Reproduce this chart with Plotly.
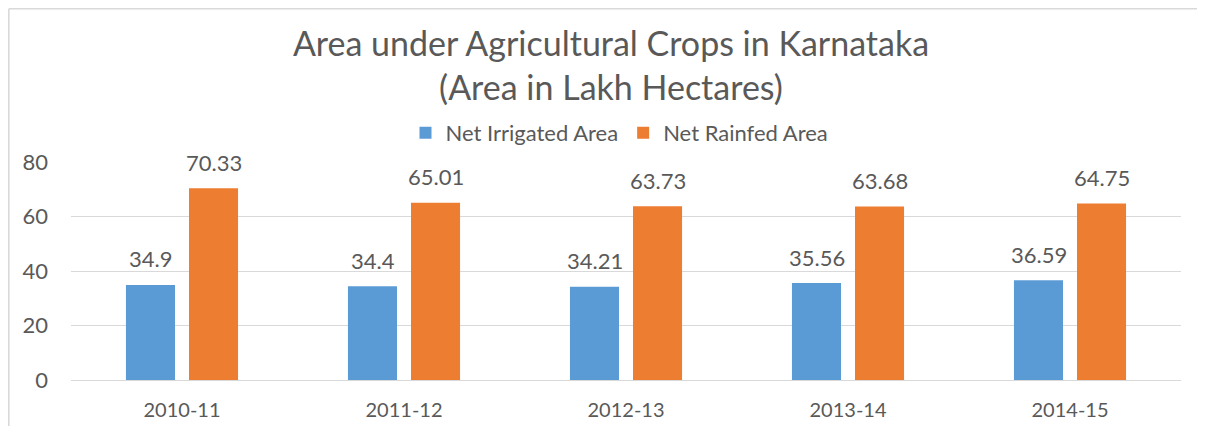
import plotly.graph_objects as go

years = ["2010-11", "2011-12", "2012-13", "2013-14", "2014-15"]
irrigated = [34.9, 34.4, 34.21, 35.56, 36.59]
rainfed = [70.33, 65.01, 63.73, 63.68, 64.75]
irrigated_labels = ["34.9", "34.4", "34.21", "35.56", "36.59"]
rainfed_labels = ["70.33", "65.01", "63.73", "63.68", "64.75"]

# the page body adds an 8px offset; figure size and coordinates are compensated for it
OFF = 8
W, H = 1205 - OFF, 426 - OFF
ML, MR, MT, MB = 71 - OFF, 24, 162 - OFF, 46
PW, PH = W - ML - MR, H - MT - MB

TXT = "#595959"
FONT = "Lato"

fig = go.Figure()
fig.add_trace(go.Bar(name="Net Irrigated Area", x=years, y=irrigated,
                     marker=dict(color="#5B9BD5", line=dict(width=0))))
fig.add_trace(go.Bar(name="Net Rainfed Area", x=years, y=rainfed,
                     marker=dict(color="#ED7D31", line=dict(width=0))))

for yr, v, t in zip(years, irrigated, irrigated_labels):
    fig.add_annotation(x=yr, y=v, text=t, showarrow=False, xshift=-31.5, yshift=26,
                       yanchor="middle", font=dict(family=FONT, size=22, color=TXT))
for yr, v, t in zip(years, rainfed, rainfed_labels):
    fig.add_annotation(x=yr, y=v, text=t, showarrow=False, xshift=32, yshift=26,
                       yanchor="middle", font=dict(family=FONT, size=22, color=TXT))

# outer chart border (only top and left edges are visible in the crop)
BX = 0.8
bx0 = (BX - ML) / PW
by1 = (MT + PH - BX) / PH
border = dict(color="#D9D9D9", width=1.6)
fig.add_shape(type="line", xref="paper", yref="paper", x0=bx0, x1=(W - ML) / PW,
              y0=by1, y1=by1, line=border, layer="below")
fig.add_shape(type="line", xref="paper", yref="paper", x0=bx0, x1=bx0,
              y0=by1, y1=-MB / PH, line=border, layer="below")

fig.update_layout(
    width=W, height=H,
    margin=dict(l=ML, r=MR, t=MT, b=MB, autoexpand=False),
    paper_bgcolor="white", plot_bgcolor="white",
    barmode="group", bargap=0.432, bargroupgap=0.222,
    title=dict(text="Area under Agricultural Crops in Karnataka<br>(Area in Lakh Hectares)",
               x=603 / W, xanchor="center", y=1 - 48 / H, yanchor="middle",
               font=dict(family=FONT, size=34, color=TXT)),
    legend=dict(orientation="h", x=(611.5 - ML) / PW, xanchor="center",
                y=(MT + PH - 125) / PH, yanchor="middle",
                font=dict(family=FONT, size=22, color=TXT), itemwidth=30,
                bgcolor="rgba(0,0,0,0)", traceorder="normal"),
    font=dict(family=FONT, color=TXT),
    xaxis=dict(type="category", showgrid=False, showline=False, ticks="",
               tickfont=dict(family=FONT, size=20, color=TXT), ticklabelstandoff=16),
    yaxis=dict(range=[0, 80], dtick=20, showgrid=True, gridcolor="#D9D9D9", gridwidth=1.3,
               zeroline=True, zerolinecolor="#D9D9D9", zerolinewidth=1.3,
               showline=False, ticks="",
               tickfont=dict(family=FONT, size=22, color=TXT), ticklabelstandoff=22),
)

fig.write_html("out.html")
